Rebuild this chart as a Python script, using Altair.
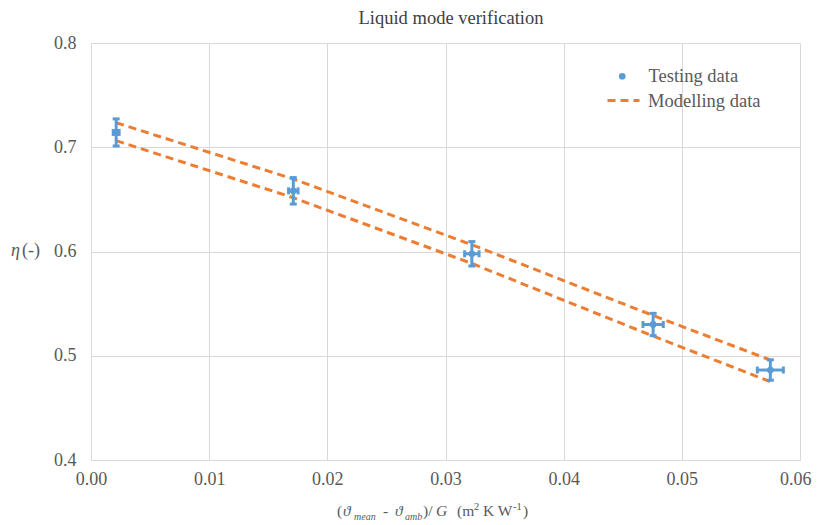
import altair as alt
import pandas as pd

# ---- data ----
x_test = [0.00213, 0.01712, 0.03223, 0.04757, 0.05749]
y_test = [0.7142, 0.6582, 0.5978, 0.5300, 0.4863]
x_err = [0.00025, 0.00040, 0.00061, 0.00086, 0.00110]
y_err = [0.0130, 0.0127, 0.0117, 0.0107, 0.0098]
model_upper = [0.7235, 0.6695, 0.6065, 0.5386, 0.4959]
model_lower = [0.7063, 0.6516, 0.5885, 0.5189, 0.4751]
x_ticks = [0.0, 0.01, 0.02, 0.03, 0.04, 0.05, 0.06]
y_ticks = [0.4, 0.5, 0.6, 0.7, 0.8]
series_names = ["Testing data", "Modelling data"]

FONT = "Liberation Serif"
BLUE = "#5B9BD5"
ORANGE = "#ED7D31"
LABEL = "#595959"
GRID = "#D9D9D9"

pts = pd.DataFrame({
    "x": x_test,
    "y": y_test,
    "xlo": [a - b for a, b in zip(x_test, x_err)],
    "xhi": [a + b for a, b in zip(x_test, x_err)],
    "ylo": [a - b for a, b in zip(y_test, y_err)],
    "yhi": [a + b for a, b in zip(y_test, y_err)],
    "series": series_names[0],
})
model = pd.DataFrame({
    "x": x_test + x_test,
    "y": model_upper + model_lower,
    "band": ["upper"] * len(x_test) + ["lower"] * len(x_test),
    "series": series_names[1],
})

xscale = alt.Scale(domain=[0, 0.06], nice=False, zero=False)
yscale = alt.Scale(domain=[0.4, 0.8], nice=False, zero=False)
xaxis = alt.Axis(
    values=x_ticks, format=".2f", title=None, labelFlush=False,
    labelAlign=alt.condition("datum.value >= 0.059", alt.value("right"), alt.value("center")),
    labelOffset=alt.condition("datum.value >= 0.059", alt.value(11), alt.value(0)),
)
yaxis = alt.Axis(values=y_ticks, format=".1f", title=None, labelFlush=False)


def X(f):
    return alt.X(f"{f}:Q", scale=xscale, axis=xaxis, title=None)


def Y(f):
    return alt.Y(f"{f}:Q", scale=yscale, axis=yaxis, title=None)


lines = alt.Chart(model).mark_line(strokeWidth=3, color=ORANGE).encode(
    x=X("x"), y=Y("y"), detail="band:N",
    strokeDash=alt.StrokeDash(
        "series:N",
        scale=alt.Scale(domain=[series_names[1]], range=[[8, 5]]),
        legend=alt.Legend(
            title=None, orient="none", legendX=515, legendY=40,
            symbolType="stroke", symbolSize=1024, symbolStrokeColor=ORANGE,
            symbolStrokeWidth=3, labelFont=FONT, labelFontSize=18.5,
            labelColor=LABEL, labelOffset=7, padding=0,
        ),
    ),
)

base = alt.Chart(pts)
yerr = base.mark_rule(color=BLUE, strokeWidth=3).encode(x=X("x"), y=Y("ylo"), y2="yhi:Q")
ycap_lo = base.mark_tick(orient="horizontal", size=7, thickness=3, color=BLUE, opacity=1).encode(x=X("x"), y=Y("ylo"))
ycap_hi = base.mark_tick(orient="horizontal", size=7, thickness=3, color=BLUE, opacity=1).encode(x=X("x"), y=Y("yhi"))
xerr = base.mark_rule(color=BLUE, strokeWidth=3).encode(x=X("xlo"), x2="xhi:Q", y=Y("y"))
xcap_lo = base.mark_tick(orient="vertical", size=7, thickness=3, color=BLUE, opacity=1).encode(x=X("xlo"), y=Y("y"))
xcap_hi = base.mark_tick(orient="vertical", size=7, thickness=3, color=BLUE, opacity=1).encode(x=X("xhi"), y=Y("y"))
points = base.mark_circle(size=45, opacity=1).encode(
    x=X("x"), y=Y("y"),
    color=alt.Color(
        "series:N",
        scale=alt.Scale(domain=[series_names[0]], range=[BLUE]),
        legend=alt.Legend(
            title=None, orient="none", legendX=522, legendY=24,
            symbolType="circle", symbolSize=45, symbolStrokeWidth=0,
            labelFont=FONT, labelFontSize=18.5, labelColor=LABEL,
            labelOffset=17, padding=0,
        ),
    ),
)


def txt(s, x, y, size=15.5, style="normal", color=LABEL, align="left", baseline="alphabetic"):
    return alt.Chart(alt.Data(values=[{}])).mark_text(
        text=s, font=FONT, fontSize=size, fontStyle=style, color=color,
        align=align, baseline=baseline,
    ).encode(x=alt.value(x), y=alt.value(y))


texts = [
    txt("Liquid mode verification", 360, -19, size=18.5, color="#404040", align="center"),
    txt("η", -80, 208, size=18, style="italic", baseline="middle"),
    txt("(-)", -69, 208, size=18, baseline="middle"),
    txt("(", 246, 473),
    txt("ϑ", 252, 473, style="italic"),
    txt("mean", 263, 477, size=10, style="italic"),
    txt("-", 292, 473),
    txt("ϑ", 304, 473, style="italic"),
    txt("amb", 314, 477, size=10, style="italic"),
    txt(")/", 332, 473),
    txt("G", 345, 473, style="italic"),
    txt("(m", 366, 473),
    txt("2", 383, 467, size=10.5),
    txt("K W", 392, 473),
    txt("-1", 422, 467, size=10.5),
    txt(")", 432, 473),
]

chart = alt.layer(
    lines, yerr, ycap_lo, ycap_hi, xerr, xcap_lo, xcap_hi, points, *texts
).properties(
    width=709, height=417,
    padding={"left": 83, "top": 35, "right": 12, "bottom": 64},
    autosize=alt.AutoSizeParams(type="none"),
).configure_view(stroke=None).configure_axis(
    grid=True, gridColor=GRID, gridWidth=1, domainColor=GRID, domainWidth=1,
    ticks=False, labelFont=FONT, labelFontSize=18, labelColor=LABEL,
).configure_axisX(labelPadding=10).configure_axisY(labelPadding=15)

chart.save("out.html", embed_options={"renderer": "svg", "actions": False})
